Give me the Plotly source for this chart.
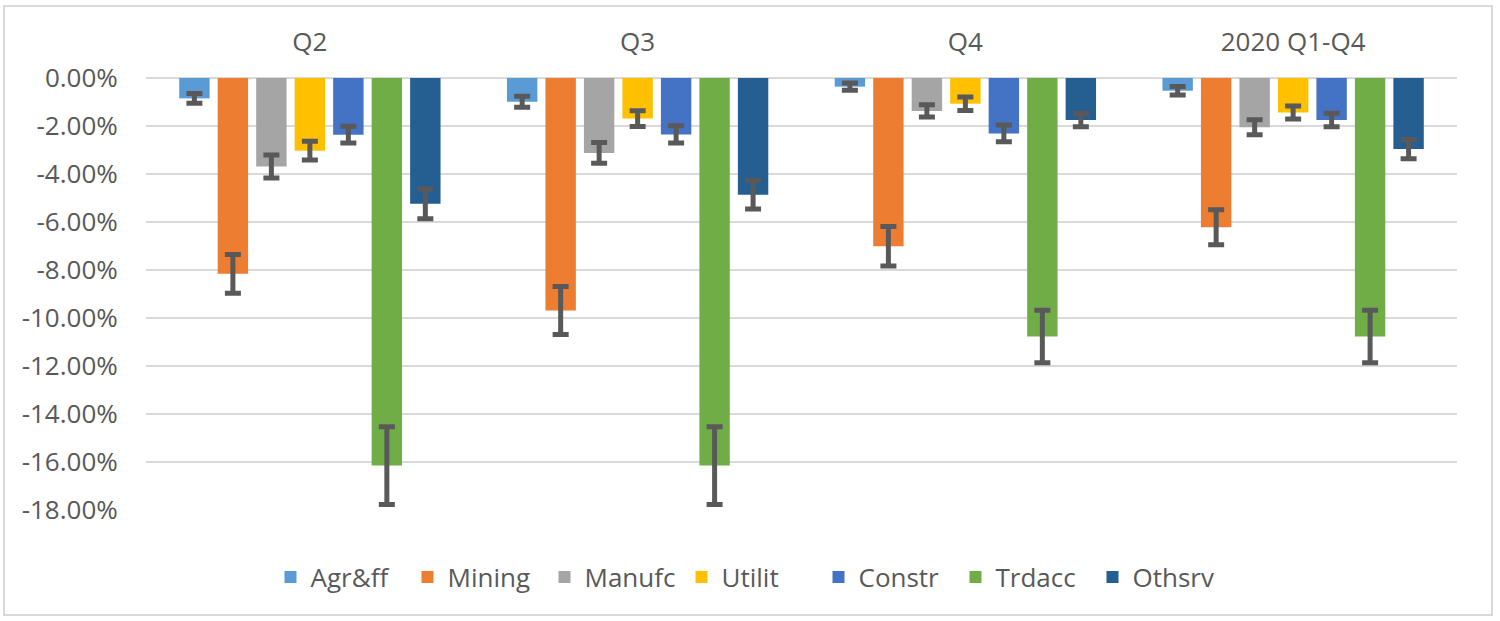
import plotly.graph_objects as go

categories = ["Q2", "Q3", "Q4", "2020 Q1-Q4"]
sectors = ["Agr&ff", "Mining", "Manufc", "Utilit", "Constr", "Trdacc", "Othsrv"]
colors = ["#5B9BD5", "#ED7D31", "#A5A5A5", "#FFC000", "#4472C4", "#70AD47", "#255E91"]

# values in percent
agr = [-0.85, -0.99, -0.36, -0.53]
mining = [-8.16, -9.69, -7.01, -6.22]
manufc = [-3.69, -3.12, -1.37, -2.05]
utilit = [-3.03, -1.69, -1.07, -1.44]
constr = [-2.36, -2.35, -2.31, -1.75]
trdacc = [-16.15, -16.15, -10.77, -10.77]
othsrv = [-5.24, -4.86, -1.75, -2.96]

# symmetric error amounts (percent)
agr_err = [0.20, 0.23, 0.15, 0.18]
mining_err = [0.81, 1.00, 0.82, 0.73]
manufc_err = [0.48, 0.43, 0.26, 0.31]
utilit_err = [0.39, 0.33, 0.28, 0.27]
constr_err = [0.35, 0.36, 0.35, 0.28]
trdacc_err = [1.62, 1.62, 1.09, 1.09]
othsrv_err = [0.62, 0.60, 0.28, 0.40]

y_tickvals = [0, -2, -4, -6, -8, -10, -12, -14, -16, -18]
y_ticktext = ["0.00%", "-2.00%", "-4.00%", "-6.00%", "-8.00%", "-10.00%",
              "-12.00%", "-14.00%", "-16.00%", "-18.00%"]

values = [agr, mining, manufc, utilit, constr, trdacc, othsrv]
errors = [agr_err, mining_err, manufc_err, utilit_err, constr_err, trdacc_err, othsrv_err]

FONT = "Open Sans"
TXT = "#595959"
FS = 26

fig = go.Figure()
for name, col, v, e in zip(sectors, colors, values, errors):
    fig.add_trace(go.Bar(
        name=name, x=categories, y=v,
        marker=dict(color=col, line=dict(width=0)),
        error_y=dict(type="data", array=e, symmetric=True,
                     color="#595959", thickness=5, width=8),
    ))

W, H = 1500, 621
ml, mr, mt, mb = 146, 43, 78, 111
pw = W - ml - mr
ph = H - mt - mb

def px_x(p):
    return (p - ml) / pw

def px_y(p):
    return (H - mb - p) / ph

fig.update_layout(
    width=W, height=H,
    margin=dict(l=ml, r=mr, t=mt, b=mb, autoexpand=False),
    paper_bgcolor="white", plot_bgcolor="white",
    barmode="group", bargap=0.178, bargroupgap=0.21,
    font=dict(family=FONT, size=FS, color=TXT),
    showlegend=True,
    legend=dict(orientation="h", x=px_x(750), xanchor="center",
                y=px_y(577), yanchor="middle",
                font=dict(family=FONT, size=FS, color=TXT),
                itemwidth=30, entrywidth=92, entrywidthmode="pixels",
                bgcolor="rgba(0,0,0,0)"),
    xaxis=dict(side="top", showgrid=False, zeroline=False, showline=False,
               ticks="outside", ticklen=16, tickcolor="rgba(0,0,0,0)",
               tickfont=dict(family=FONT, size=FS, color=TXT)),
    yaxis=dict(range=[-18, 0], tickmode="array", tickvals=y_tickvals, ticktext=y_ticktext,
               showgrid=True, gridcolor="#D9D9D9", gridwidth=2,
               zeroline=True, zerolinecolor="#D9D9D9", zerolinewidth=2,
               showline=False, ticks="outside", ticklen=22,
               tickcolor="rgba(0,0,0,0)",
               tickfont=dict(family=FONT, size=FS, color=TXT)),
    shapes=[dict(type="rect", xref="paper", yref="paper",
                 x0=px_x(4), x1=px_x(1492), y0=px_y(615), y1=px_y(6),
                 line=dict(color="#D9D9D9", width=2), fillcolor="rgba(0,0,0,0)",
                 layer="below")],
)

fig.write_html("out.html", config={"displayModeBar": False},
               post_script="document.body.style.margin='0';document.body.style.overflow='hidden';")
